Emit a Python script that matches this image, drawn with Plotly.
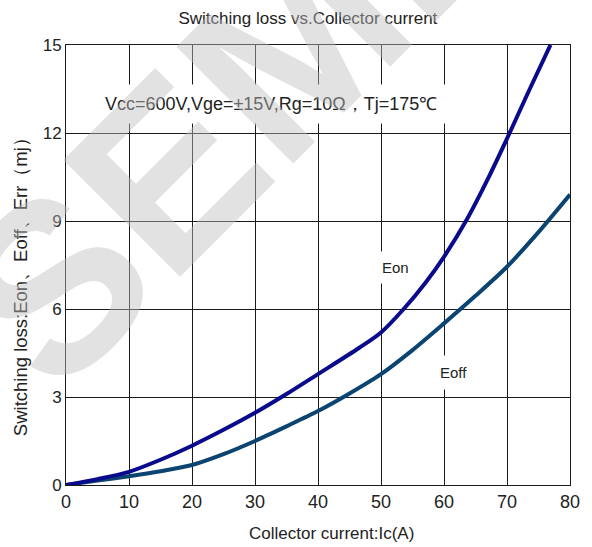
import plotly.graph_objects as go

# Data
eon_x = [0, 5, 10, 15, 20, 25, 30, 35, 40, 46.5, 50, 53.6, 57, 60, 63.6, 67, 70.2, 73.5, 76.9]
eon_y = [0, 0.2, 0.45, 0.86, 1.34, 1.88, 2.46, 3.1, 3.78, 4.67, 5.2, 6.0, 6.88, 7.78, 9.04, 10.45, 11.9, 13.45, 15.0]
eoff_x = [0, 5, 10, 15, 20, 25, 30, 35, 40, 45, 50, 55, 60, 65, 70, 75, 80]
eoff_y = [0, 0.15, 0.3, 0.47, 0.68, 1.05, 1.5, 2.0, 2.52, 3.12, 3.78, 4.6, 5.51, 6.45, 7.44, 8.62, 9.9]
x_ticks = [0, 10, 20, 30, 40, 50, 60, 70, 80]
y_ticks = [0, 3, 6, 9, 12, 15]

FONT = "Liberation Sans, Arial, sans-serif"
GRID = "#1a1a1a"

fig = go.Figure()
fig.add_trace(go.Scatter(x=eoff_x, y=eoff_y, mode="lines", name="Eoff",
                         line=dict(color="#0b4470", width=4, shape="spline", smoothing=0.8)))
fig.add_trace(go.Scatter(x=eon_x, y=eon_y, mode="lines", name="Eon",
                         line=dict(color="#0a0a8c", width=4, shape="spline", smoothing=0.8)))

fig.update_layout(
    width=592, height=547,
    margin=dict(l=66, r=20, t=45, b=62),
    paper_bgcolor="white", plot_bgcolor="white",
    showlegend=False,
    font=dict(family=FONT, color="#222"),
    title=dict(text="Switching loss vs.Collector current", x=0.48, xref="paper",
               y=1 - 18 / 547, yanchor="middle", font=dict(size=17, color="#222")),
    xaxis=dict(range=[0, 80], tickvals=x_ticks, showgrid=True, gridcolor=GRID, gridwidth=1,
               showline=True, linecolor=GRID, linewidth=1, mirror=True, zeroline=False,
               ticks="", tickfont=dict(size=18, color="#222")),
    yaxis=dict(range=[0, 15], tickvals=y_ticks, showgrid=True, gridcolor=GRID, gridwidth=1,
               showline=True, linecolor=GRID, linewidth=1, mirror=True, zeroline=False,
               ticks="", tickfont=dict(size=17, color="#222")),
)

annotations = [
    dict(text="Collector current:Ic(A)", xref="paper", yref="paper",
         x=(333 - 66) / 506, y=-(533 - 485) / 440, xanchor="center", yanchor="middle",
         showarrow=False, font=dict(size=17, color="#222")),
    dict(text="Switching loss:Eon、Eoff、Err（mj）", xref="paper", yref="paper",
         x=-(66 - 20) / 506, y=(485 - 282) / 440, xanchor="center", yanchor="middle",
         textangle=-90, showarrow=False, font=dict(size=18.5, color="#222")),
    dict(text="Vcc=600V,Vge=±15V,Rg=10Ω，Tj=175℃", x=32.6, y=13.0, xref="x", yref="y",
         showarrow=False, bgcolor="white", borderpad=9, font=dict(size=18, color="#222")),
    dict(text="Eon", x=52.3, y=7.4, xref="x", yref="y", showarrow=False,
         bgcolor="white", borderpad=7, font=dict(size=15, color="#222")),
    dict(text="Eoff", x=61.5, y=3.82, xref="x", yref="y", showarrow=False,
         bgcolor="white", borderpad=8, font=dict(size=15, color="#222")),
    dict(text="<b>SEMI</b>", xref="paper", yref="paper",
         x=(205 - 66) / 506, y=(485 - 135) / 440, xanchor="center", yanchor="middle",
         textangle=-45, showarrow=False,
         font=dict(size=240, color="rgba(190,190,190,0.45)", family=FONT)),
]
fig.update_layout(annotations=annotations)

fig.write_html("out.html")
